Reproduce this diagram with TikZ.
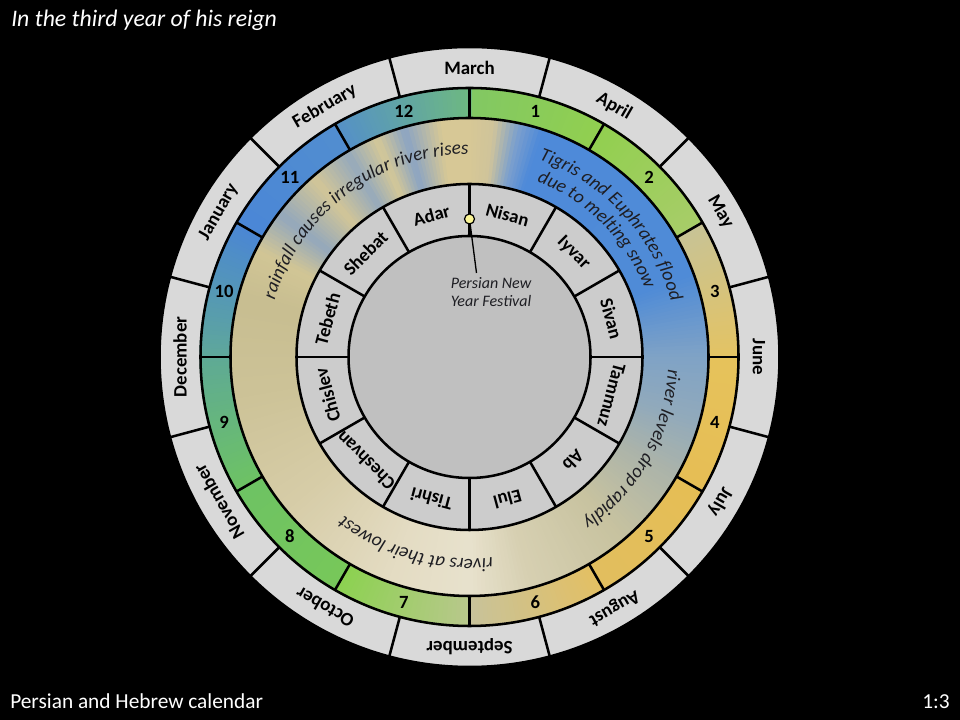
\documentclass[tikz,border=0pt]{standalone}
\usepackage{fontspec}
\setmainfont{Carlito}
\usetikzlibrary{decorations.text}
\definecolor{outerg}{RGB}{217,217,217}
\definecolor{hebg}{RGB}{204,204,204}
\definecolor{innerg}{RGB}{192,192,192}
\definecolor{dotc}{RGB}{250,245,150}
\definecolor{txtc}{RGB}{30,30,35}
\newcommand{\bandfont}{\itshape\fontsize{14.3}{16}\selectfont}
\tikzset{
  ringline/.style={line width=1.9pt, black},
  monlab/.style={font=\fontsize{14.2}{16}\selectfont\bfseries, text=black, inner sep=0pt},
  numlab/.style={font=\fontsize{14}{16}\selectfont\bfseries, text=black, inner sep=0pt},
  heblab/.style={font=\fontsize{14}{16}\selectfont\bfseries, text=black, inner sep=0pt},
  bandtext/.style={decorate, decoration={text along path, text align=center, text color=txtc, text={|\bandfont|#1}}},
  festlab/.style={font=\itshape\fontsize{12}{13}\selectfont, text=txtc, align=center, inner sep=0pt},
  slidetext/.style={text=white, inner sep=0pt}
}
\begin{document}
\begin{tikzpicture}[x=0.75pt,y=0.75pt]
\fill[black] (0,0) rectangle (960,720);
\useasboundingbox (0,0) rectangle (960,720);
\begin{scope}[shift={(469.5,363)}]
  % outer grey ring
  \fill[outerg] (0,0) circle[radius=310];
  % Persian month ring (numbers) with per-cell gradients
  \foreach \k/\ra/\ga/\ba/\rb/\gb/\bb in {
    1/130/200/100/146/208/80,
    2/146/208/80/168/205/105,
    3/200/195/150/228/195/100,
    4/230/195/92/230/190/85,
    5/230/190/85/226/190/95,
    6/228/192/100/200/195/155,
    7/185/200/140/140/210/80,
    8/120/200/90/110/195/100,
    9/110/195/100/95/170/150,
    10/95/168/155/75/135/212,
    11/75/135/215/82/142/208,
    12/85/145/200/110/185/130}{
    \foreach \i in {0,...,29}{
      \pgfmathsetmacro{\ff}{(\i+0.5)/30}
      \pgfmathtruncatemacro{\cR}{\ra+(\rb-\ra)*\ff}
      \pgfmathtruncatemacro{\cG}{\ga+(\gb-\ga)*\ff}
      \pgfmathtruncatemacro{\cB}{\ba+(\bb-\ba)*\ff}
      \definecolor{slc}{RGB}{\cR,\cG,\cB}
      \pgfmathsetmacro{\angS}{90-30*(\k-1)-\i}
      \pgfmathsetmacro{\angE}{\angS-1.5}
      \fill[slc] (\angS:270) arc[start angle=\angS,end angle=\angE,radius=270] -- (\angE:238) arc[start angle=\angE,end angle=\angS,radius=238] -- cycle;
    }
  }
  % river band gradient
  \foreach \ta/\ra/\ga/\ba/\tb/\rb/\gb/\bb in {
    0/215/200/150/6/208/196/155,
    6/208/196/155/12/125/160/205,
    12/125/160/205/18/78/138/218,
    18/78/138/218/70/80/140/215,
    70/80/140/215/90/128/163/198,
    90/128/163/198/105/145/170/188,
    105/145/170/188/120/172/180/170,
    120/172/180/170/140/200/195/160,
    140/200/195/160/165/215/208/178,
    165/215/208/178/180/232/226/205,
    180/232/226/205/200/228/220/195,
    200/228/220/195/230/215/205/168,
    230/215/205/168/260/205/195/152,
    260/205/195/152/285/200/190/145,
    285/200/190/145/297/210/198/150,
    297/210/198/150/307/148/168/188,
    307/148/168/188/319/210/198/152,
    319/210/198/152/329/150/170/188,
    329/150/170/188/337/212/200/152,
    337/212/200/152/344/140/165/195,
    344/140/165/195/353/215/200/150,
    353/215/200/150/360/215/200/150}{
    \pgfmathtruncatemacro{\nn}{\tb-\ta-1}
    \foreach \i in {0,...,\nn}{
      \pgfmathsetmacro{\ff}{(\i+0.5)/(\tb-\ta)}
      \pgfmathtruncatemacro{\cR}{\ra+(\rb-\ra)*\ff}
      \pgfmathtruncatemacro{\cG}{\ga+(\gb-\ga)*\ff}
      \pgfmathtruncatemacro{\cB}{\ba+(\bb-\ba)*\ff}
      \definecolor{slc}{RGB}{\cR,\cG,\cB}
      \pgfmathsetmacro{\angS}{90-\ta-\i}
      \pgfmathsetmacro{\angE}{\angS-1.5}
      \fill[slc] (\angS:239) arc[start angle=\angS,end angle=\angE,radius=239] -- (\angE:172) arc[start angle=\angE,end angle=\angS,radius=172] -- cycle;
    }
  }
  % Hebrew ring and inner disc
  \fill[hebg] (0,0) circle[radius=173];
  \fill[innerg] (0,0) circle[radius=121];
  % circles
  \draw[ringline] (0,0) circle[radius=310];
  \draw[ringline] (0,0) circle[radius=269];
  \draw[ringline] (0,0) circle[radius=239];
  \draw[ringline] (0,0) circle[radius=173];
  \draw[ringline] (0,0) circle[radius=121];
  % dividers
  \foreach \a in {15,45,...,345} \draw[ringline] (\a:269) -- (\a:310);
  \foreach \a in {0,30,...,330} \draw[ringline] (\a:239) -- (\a:269);
  \foreach \a in {0,30,...,330} \draw[ringline] (\a:121) -- (\a:173);
  % Gregorian month labels
  \foreach \nm [count=\i from 0] in {March,April,May,June,July,August,September,October,November,December,January,February}{
    \pgfmathsetmacro{\ang}{90-30*\i}
    \node[monlab, rotate=\ang-90] (g\i) at (\ang:289.5) {\nm};
  }
  % Persian month numbers
  \foreach \i in {1,...,12}{
    \pgfmathsetmacro{\ang}{105-30*\i}
    \node[numlab] (p\i) at (\ang:254) {\i};
  }
  % Hebrew month labels
  \foreach \nm [count=\i from 0] in {Nisan,Iyvar,Sivan,Tammuz,Ab,Elul,Tishri,Cheshvan,Chislev,Tebeth,Shebat,Adar}{
    \pgfmathsetmacro{\ang}{75-30*\i}
    \node[heblab, rotate=\ang-90] (h\i) at (\ang:147) {\nm};
  }
  % river band texts
  \path[bandtext={rainfall causes irregular river rises}] (177:203) arc[start angle=177,end angle=77,radius=203];
  \path[bandtext={Tigris and Euphrates flood}] (93:209) arc[start angle=93,end angle=-7,radius=209];
  \path[bandtext={due to melting snow}] (95:188) arc[start angle=95,end angle=-5,radius=188];
  \path[bandtext={river levels drop rapidly}] (20:199) arc[start angle=20,end angle=-79,radius=199];
  \path[bandtext={rivers at their lowest}] (-56:202) arc[start angle=-56,end angle=-156,radius=202];
  % Persian New Year marker
  \node[circle, fill=dotc, draw=black, line width=0.9pt, inner sep=0pt, minimum size=7.5pt] (dot) at (90:138) {};
  \coordinate (pend) at (7,84);
  \draw[line width=1pt, black] (dot) -- (pend);
  \node[festlab] (fest) at (21.5,65) {Persian New\\Year Festival};
\end{scope}
\node[slidetext, anchor=base west, font=\itshape\fontsize{17.8}{20}\selectfont] (title) at (11,693) {In the third year of his reign};
\node[slidetext, anchor=base west, font=\fontsize{16}{18}\selectfont] (foot) at (10,11) {Persian and Hebrew calendar};
\node[slidetext, anchor=base east, font=\fontsize{16}{18}\selectfont] (page) at (950,11) {1:3};
\end{tikzpicture}
\end{document}
